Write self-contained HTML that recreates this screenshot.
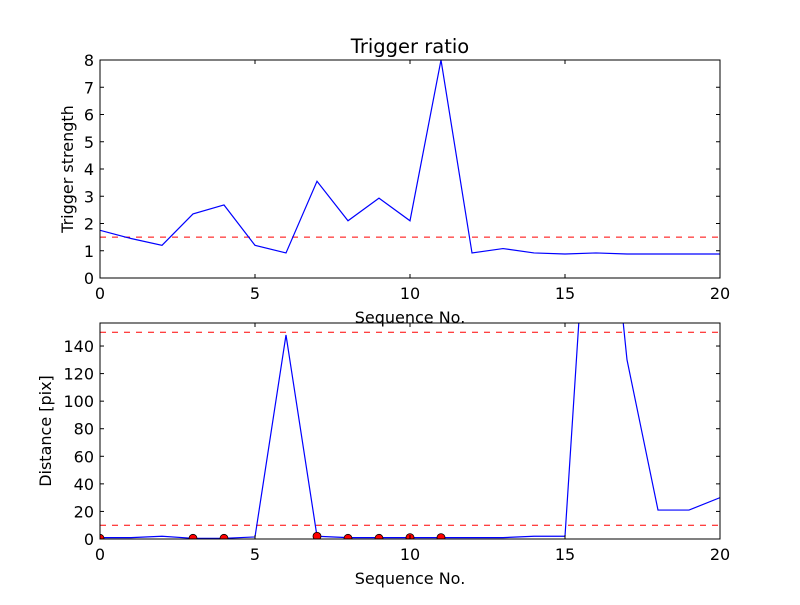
<!DOCTYPE html>
<html><head><meta charset="utf-8"><style>body{margin:0;background:#fff}svg text{font-family:"DejaVu Sans","Liberation Sans",sans-serif;fill:#000}</style></head>
<body>
<svg id="c" width="800" height="600" xmlns="http://www.w3.org/2000/svg">
<rect width="800" height="600" fill="#fff"/>
</svg>
<script>
const seqTop=[0,1,2,3,4,5,6,7,8,9,10,11,12,13,14,15,16,17,18,19,20];
const triggerStrength=[1.75,1.45,1.2,2.35,2.68,1.2,0.92,3.55,2.1,2.93,2.1,8.0,0.92,1.08,0.92,0.88,0.92,0.88,0.88,0.88,0.88];
const triggerThreshold=1.5;
const seqBottom=[0,1,2,3,4,5,6,7,8,9,10,11,12,13,14,15,16,17,18,19,20];
const distance=[1,1,2,0.5,0.5,1.5,148,2,1,1,1,1,1,1,2,2,350,130,21,21,30];
const markerSeq=[0,3,4,7,8,9,10,11];
const markerDist=[0.5,0.5,0.5,2,0.5,0.5,1,1];
const distThresholds=[150,10];
const xTicks=[0,5,10,15,20];
const yTicksTop=[0,1,2,3,4,5,6,7,8];
const yTicksBottom=[0,20,40,60,80,100,120,140];

const svg=document.getElementById('c');const NS='http://www.w3.org/2000/svg';
function mk(tag,attrs,name,parent){const e=document.createElementNS(NS,tag);for(const k in attrs)e.setAttribute(k,attrs[k]);


(parent||svg).appendChild(e);return e;}
function txt(s,x,y,size,anchor,name,extra){const t=mk('text',Object.assign({x:x,y:y,'font-size':size,'text-anchor':anchor},extra||{}),name);t.textContent=s;return t;}
const L=100,R=720;
function panel(top,bot,ymax,ticks,xs,ys,thr,ylabel,id){
 const sx=v=>L+(v-0)/(20-0)*(R-L);const sy=v=>bot-v/ymax*(bot-top);
 const clip=mk('clipPath',{id:'clip'+id},'clip-'+id);mk('rect',{x:L,y:top,width:R-L,height:bot-top},'clip-rect',clip);
 const g=mk('g',{'clip-path':'url(#clip'+id+')'},'plot-area-'+id);
 (Array.isArray(thr)?thr:[thr]).forEach((t,i)=>mk('line',{x1:L,x2:R,y1:sy(t),y2:sy(t),stroke:'#f00','stroke-dasharray':'6,6','stroke-width':1},'threshold-line-'+id+'-'+i,g));
 mk('polyline',{points:xs.map((x,i)=>sx(x)+','+sy(ys[i])).join(' '),fill:'none',stroke:'#00f','stroke-width':1.2},'series-line-'+id,g);
 mk('rect',{x:L,y:top,width:R-L,height:bot-top,fill:'none',stroke:'#000'},'axes-frame-'+id);
 xTicks.forEach(v=>{const x=sx(v);mk('line',{x1:x,x2:x,y1:bot,y2:bot-4,stroke:'#000'},'x-tick-'+id);mk('line',{x1:x,x2:x,y1:top,y2:top+4,stroke:'#000'},'x-tick-top-'+id);txt(String(v),x,bot+21,16,'middle','x-tick-label-'+id);});
 ticks.forEach(v=>{const y=sy(v);mk('line',{x1:L,x2:L+4,y1:y,y2:y,stroke:'#000'},'y-tick-'+id);mk('line',{x1:R,x2:R-4,y1:y,y2:y,stroke:'#000'},'y-tick-right-'+id);txt(String(v),L-6,y+6,16,'end','y-tick-label-'+id);});
 txt('Sequence No.',(L+R)/2,bot+45,16,'middle','x-axis-title-'+id);
 txt(ylabel,0,0,16,'middle','y-axis-title-'+id,{transform:'translate('+(id==='top'?73:51)+','+((top+bot)/2)+') rotate(-90)'});
 return {sx,sy,g};
}
txt('Trigger ratio',410,53,19.5,'middle','chart-title');
panel(60,278,8,yTicksTop,seqTop,triggerStrength,triggerThreshold,'Trigger strength','top');
const b=panel(323,539,156.7,yTicksBottom,seqBottom,distance,distThresholds,'Distance [pix]','bottom');
markerSeq.forEach((s,i)=>mk('circle',{cx:b.sx(s),cy:b.sy(markerDist[i]),r:4,fill:'#f00',stroke:'#000','stroke-width':0.8},'marker-point',b.g));
</script>
</body></html>
